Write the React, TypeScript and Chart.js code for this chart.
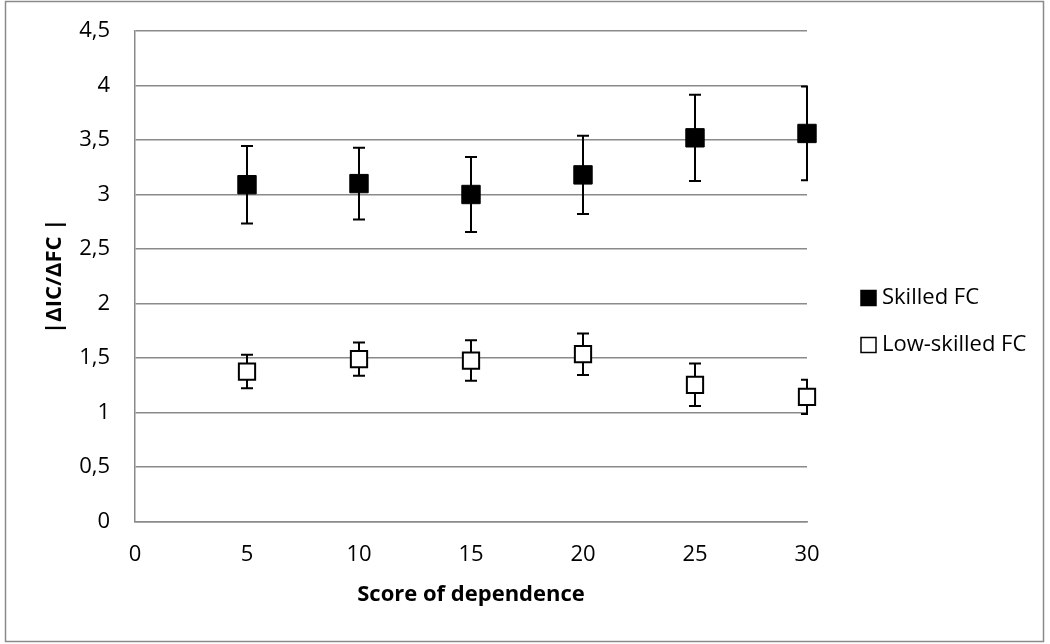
import React, { useEffect, useRef } from "react";
import { Chart, registerables } from "chart.js";

Chart.register(...registerables);

const scores = [5, 10, 15, 20, 25, 30];
const skilledMeans = [3.09, 3.1, 3.0, 3.18, 3.52, 3.56];
const skilledErrors = [0.355, 0.33, 0.345, 0.36, 0.395, 0.43];
const lowSkilledMeans = [1.376, 1.49, 1.477, 1.535, 1.254, 1.144];
const lowSkilledErrors = [0.153, 0.153, 0.185, 0.19, 0.195, 0.157];
const seriesNames = ["Skilled FC", "Low-skilled FC"];
const xTitle = "Score of dependence";
const yTitle = "|ΔIC/ΔFC |";

const FONT = "'Open Sans', sans-serif";
const GRID = "#8a8a8a";

const errorBarPlugin = {
  id: "errorBars",
  beforeDatasetsDraw(chart: any) {
    const ctx = chart.ctx;
    const xs = chart.scales.x;
    const ys = chart.scales.y;
    const area = chart.chartArea;
    const errs = [skilledErrors, lowSkilledErrors];
    ctx.save();
    ctx.beginPath();
    ctx.rect(0, 0, area.right + 1, chart.height);
    ctx.clip();
    ctx.strokeStyle = "#000";
    ctx.lineWidth = 2;
    chart.data.datasets.forEach((ds: any, di: number) => {
      ds.data.forEach((p: any, i: number) => {
        const x = xs.getPixelForValue(p.x);
        const yt = ys.getPixelForValue(p.y + errs[di][i]);
        const yb = ys.getPixelForValue(p.y - errs[di][i]);
        ctx.beginPath();
        ctx.moveTo(x, yt);
        ctx.lineTo(x, yb);
        ctx.moveTo(x - 6, yt);
        ctx.lineTo(x + 6, yt);
        ctx.moveTo(x - 6, yb);
        ctx.lineTo(x + 6, yb);
        ctx.stroke();
      });
    });
    ctx.restore();
  },
};

const framePlugin = {
  id: "frameLegend",
  beforeDraw(chart: any) {
    const ctx = chart.ctx;
    ctx.save();
    ctx.fillStyle = "#fff";
    ctx.fillRect(0, 0, chart.width, chart.height);
    ctx.strokeStyle = GRID;
    ctx.lineWidth = 1.5;
    ctx.strokeRect(5.5, 1.5, 1038, 640);
    ctx.restore();
  },
  afterDraw(chart: any) {
    const ctx = chart.ctx;
    ctx.save();
    ctx.font = `22px ${FONT}`;
    ctx.textBaseline = "middle";
    const items = [
      { y: 298, fill: "#000" },
      { y: 345, fill: "#fff" },
    ];
    items.forEach((it, i) => {
      ctx.fillStyle = it.fill;
      ctx.fillRect(861, it.y - 7.5, 15, 15);
      ctx.strokeStyle = "#000";
      ctx.lineWidth = 1.5;
      ctx.strokeRect(861, it.y - 7.5, 15, 15);
      ctx.fillStyle = "#000";
      ctx.fillText(seriesNames[i], 882, it.y);
    });
    ctx.restore();
  },
};

export default function App() {
  const ref = useRef<HTMLCanvasElement>(null);
  useEffect(() => {
    if (!ref.current) return;
    const chart = new Chart(ref.current, {
      type: "scatter",
      data: {
        datasets: [
          {
            label: seriesNames[0],
            data: scores.map((s, i) => ({ x: s, y: skilledMeans[i] })),
            pointStyle: "rect",
            pointRadius: 13,
            backgroundColor: "#000",
            borderColor: "#000",
            borderWidth: 1,
            clip: false,
          },
          {
            label: seriesNames[1],
            data: scores.map((s, i) => ({ x: s, y: lowSkilledMeans[i] })),
            pointStyle: "rect",
            pointRadius: 11.5,
            backgroundColor: "#fff",
            borderColor: "#000",
            borderWidth: 2,
            clip: false,
          },
        ],
      },
      options: {
        responsive: false,
        animation: false,
        layout: { autoPadding: false, padding: { top: 31, right: 243, left: 0, bottom: 0 } },
        plugins: {
          legend: { display: false },
          tooltip: { enabled: false },
        },
        scales: {
          x: {
            type: "linear",
            min: 0,
            max: 30,
            ticks: {
              stepSize: 5,
              padding: 20,
              color: "#000",
              font: { family: FONT, size: 22 },
            },
            grid: { display: false, drawTicks: false },
            border: { display: true, color: GRID, width: 1.5 },
            title: {
              display: true,
              text: xTitle,
              color: "#000",
              font: { family: FONT, size: 22, weight: "bold" },
              padding: { top: 0, bottom: 36 },
            },
            afterFit(scale: any) {
              scale.height = 122.5;
              scale.paddingLeft = 0;
              scale.paddingRight = 0;
            },
          },
          y: {
            min: 0,
            max: 4.5,
            ticks: {
              stepSize: 0.5,
              padding: 25,
              color: "#000",
              font: { family: FONT, size: 22 },
              callback: (v: any) => String(v).replace(".", ","),
            },
            grid: { display: true, drawTicks: false, color: GRID, lineWidth: 1.5 },
            border: { display: true, color: GRID, width: 1.5 },
            title: {
              display: true,
              text: yTitle,
              color: "#000",
              font: { family: FONT, size: 22, weight: "bold" },
              padding: { top: 42, bottom: 0 },
            },
            afterFit(scale: any) {
              scale.width = 135;
              scale.paddingTop = 0;
              scale.paddingBottom = 0;
            },
          },
        },
      },
      plugins: [framePlugin, errorBarPlugin],
    } as any);
    return () => chart.destroy();
  }, []);
  return (
    <div style={{ position: "fixed", left: 0, top: 0, width: 1050, height: 644 }}>
      <canvas ref={ref} width={1050} height={644} />
    </div>
  );
}
